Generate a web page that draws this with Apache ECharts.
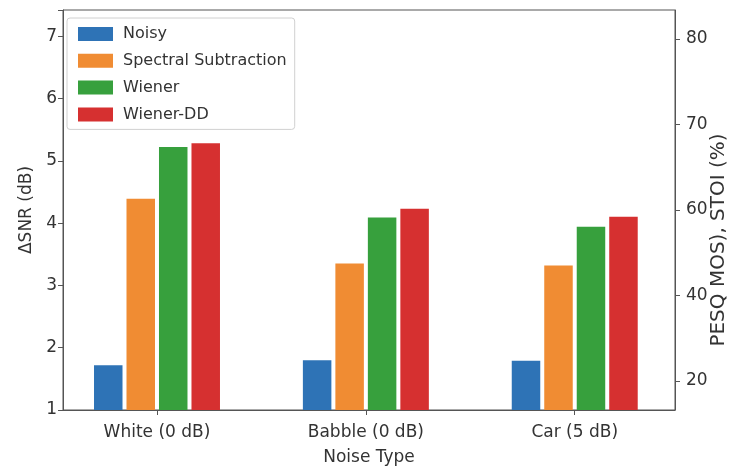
<!DOCTYPE html>
<html>
<head>
<meta charset="utf-8">
<script src="https://cdn.jsdelivr.net/npm/echarts@6/dist/echarts.min.js"></script>
<style>
html,body{margin:0;padding:0;background:#fff;}
#chart{width:730px;height:469px;}
</style>
</head>
<body>
<div id="chart"></div>
<script>
// ---- data ----
const categories = ['White (0 dB)', 'Babble (0 dB)', 'Car (5 dB)'];
const seriesNames = ['Noisy', 'Spectral Subtraction', 'Wiener', 'Wiener-DD'];
const noisy = [1.72, 1.80, 1.79];
const spectral = [4.39, 3.35, 3.32];
const wiener = [5.22, 4.09, 3.94];
const wienerDD = [5.28, 4.23, 4.10];
const leftTicks = [1, 2, 3, 4, 5, 6, 7];
const rightTickLabels = ['20', '40', '60', '70', '80'];

const colors = ['#2e73b6', '#f08c33', '#37a03d', '#d63030'];
const allValues = [noisy, spectral, wiener, wienerDD];
const font = 'DejaVu Sans';
const txt = '#333';

const chart = echarts.init(document.getElementById('chart'), null, {renderer: 'canvas'});

const series = seriesNames.map((name, i) => ({
  name: name,
  type: 'bar',
  xAxisIndex: 0,
  yAxisIndex: 0,
  barWidth: 28.5,
  barGap: '14%',
  itemStyle: {color: colors[i]},
  data: allValues[i].map((v, k) => [k, v])
}));

chart.setOption({
  animation: false,
  backgroundColor: '#fff',
  color: colors,
  grid: {
    left: 63, right: 55, top: 10, bottom: 59,
    outerBoundsMode: 'none', containLabel: false,
    show: true, borderColor: '#555', borderWidth: 1, backgroundColor: 'transparent'
  },
  legend: {
    orient: 'vertical',
    left: 67, top: 18,
    itemWidth: 35, itemHeight: 14, itemGap: 10.8,
    padding: [8, 8, 7, 11],
    backgroundColor: '#fff',
    borderColor: '#d0d0d0', borderWidth: 1, borderRadius: 3,
    icon: 'rect',
    textStyle: {fontFamily: font, fontSize: 16, color: txt, padding: [0, 0, 0, 5]},
    data: seriesNames
  },
  xAxis: {
    type: 'value',
    min: -0.45, max: 2.48,
    splitLine: {show: false},
    axisLine: {show: true, onZero: false, lineStyle: {color: '#555'}},
    axisTick: {show: true, customValues: [0, 1, 2], length: 5, lineStyle: {color: '#555'}},
    axisLabel: {
      customValues: [0, 1, 2],
      formatter: v => categories[Math.round(v)],
      fontFamily: font, fontSize: 17, color: txt, margin: 14
    },
    name: 'Noise Type', nameLocation: 'middle', nameGap: 39,
    nameTextStyle: {fontFamily: font, fontSize: 17, color: txt}
  },
  yAxis: [
    {
      type: 'value', min: 1, max: 7.42, interval: 1,
      position: 'left',
      splitLine: {show: false},
      axisLine: {show: true, onZero: false, lineStyle: {color: '#555'}},
      axisTick: {show: true, length: 5, lineStyle: {color: '#555'}},
      axisLabel: {
        customValues: leftTicks,
        fontFamily: font, fontSize: 17, color: txt, margin: 6
      },
      name: 'ΔSNR (dB)', nameLocation: 'middle', nameGap: 28, nameRotate: 90,
      nameTextStyle: {fontFamily: font, fontSize: 17, color: txt}
    },
    {
      type: 'value', min: -0.34, max: 4.34,
      position: 'right',
      splitLine: {show: false},
      axisLine: {show: true, onZero: false, lineStyle: {color: '#555'}},
      axisTick: {show: true, customValues: rightTickLabels.map((_, i) => i), length: 5, lineStyle: {color: '#555'}},
      axisLabel: {
        customValues: rightTickLabels.map((_, i) => i),
        formatter: v => rightTickLabels[Math.round(v)],
        fontFamily: font, fontSize: 17, color: txt, margin: 11
      },
      name: 'PESQ MOS), STOI (%)', nameLocation: 'middle', nameGap: 34, nameRotate: 90,
      nameMoveOverlap: false,
      nameTextStyle: {fontFamily: font, fontSize: 20, color: txt, padding: [0, 60, 0, 0]}
    }
  ],
  series: series
});
</script>
</body>
</html>
